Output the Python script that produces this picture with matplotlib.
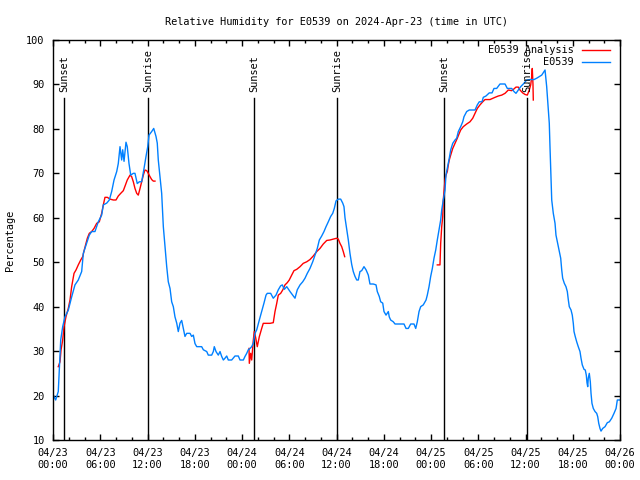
import matplotlib

matplotlib.use("Agg")
import matplotlib.pyplot as plt
from matplotlib.ticker import MultipleLocator

# hours since 2024-04-23 00:00 UTC
obs_hours = [
    0.04, 0.34, 0.67, 0.8, 0.98, 1.23, 1.52, 1.94, 2.37, 2.79, 3.21, 3.64, 3.85, 4.28,
    4.61, 4.91, 5.33, 5.75, 6.18, 6.39, 6.82, 7.15, 7.45, 7.75, 8.09, 8.29, 8.51, 8.72,
    8.85, 9.02, 9.27, 9.43, 9.65, 9.87, 10.2, 10.41, 10.7, 10.96, 11.26, 11.56, 11.81,
    12.03, 12.19, 12.53, 12.79, 13.08, 13.24, 13.37, 13.59, 13.8, 14.01, 14.22, 14.44,
    14.64, 14.86, 15.07, 15.28, 15.49, 15.71, 15.91, 16.13, 16.34, 16.55, 16.76, 16.98,
    17.4, 17.61, 17.82, 18.03, 18.25, 18.88, 19.09, 19.52, 19.72, 20.15, 20.36, 20.48,
    20.7, 20.99, 21.21, 21.42, 21.63, 21.84, 22.06, 22.26, 22.69, 23.11, 23.53, 23.75,
    24.17, 24.38, 24.6, 24.8, 25.02, 25.23, 25.44, 25.65, 25.87, 26.2, 26.5, 26.79,
    27.05, 27.21, 27.64, 27.97, 28.32, 28.61, 28.91, 29.12, 29.37, 29.68, 30.1, 30.44,
    30.73, 31.02, 31.37, 31.71, 32.0, 32.29, 32.63, 32.98, 33.27, 33.56, 33.82, 34.12,
    34.41, 34.67, 34.96, 35.26, 35.52, 35.72, 35.94, 36.23, 36.53, 36.79, 36.95, 37.08,
    37.29, 37.5, 37.71, 37.93, 38.13, 38.35, 38.57, 38.77, 38.98, 39.2, 39.49, 39.75,
    40.04, 40.25, 40.67, 41.02, 41.18, 41.43, 41.61, 41.87, 42.03, 42.29, 42.58, 42.7,
    42.88, 43.21, 43.43, 44.57, 44.83, 45.12, 45.42, 45.84, 46.06, 46.26, 46.48, 46.69,
    47.02, 47.37, 47.53, 47.75, 47.96, 48.17, 48.38, 48.6, 48.8, 49.02, 49.23, 49.36,
    49.56, 49.78, 49.9, 50.07, 50.32, 50.5, 50.76, 51.05, 51.26, 51.47, 51.77, 52.03,
    52.19, 52.53, 52.86, 53.59, 53.88, 54.13, 54.48, 54.64, 54.98, 55.4, 55.75, 56.0,
    56.34, 56.76, 57.4, 57.69, 58.25, 58.54, 58.79, 59.09, 59.39, 59.72, 60.15, 60.57,
    61.08, 61.42, 61.75, 62.06, 62.35, 62.48, 62.69, 62.9, 63.02, 63.11, 63.33, 63.53,
    63.75, 63.87, 64.04, 64.25, 64.47, 64.6, 64.72, 64.93, 65.14, 65.31, 65.44, 65.56,
    65.78, 65.94, 66.07, 66.16, 66.32, 66.5, 66.7, 66.92, 67.05, 67.21, 67.43, 67.59,
    67.72, 67.81, 67.9, 67.97, 68.1, 68.23, 68.32, 68.44, 68.61, 68.83, 69.04, 69.17,
    69.3, 69.46, 69.59, 69.8, 70.1, 70.39, 70.65, 70.95, 71.24, 71.5, 71.66, 72.0,
]
obs_rh = [
    20.1, 19.0, 20.9, 25.7, 32.5, 35.5, 37.7, 39.2, 42.2, 44.9, 46.0, 47.9, 52.0, 54.3,
    56.1, 56.9, 56.9, 59.1, 60.6, 62.9, 63.3, 64.0, 65.9, 68.5, 70.4, 72.2, 76.0, 73.0,
    75.3, 72.7, 77.0, 76.0, 72.2, 69.6, 70.0, 70.0, 67.7, 68.1, 68.1, 71.1, 73.8,
    76.0, 78.6, 79.4, 80.1, 78.3, 76.8, 73.0, 69.2, 65.5, 58.0, 53.5, 49.0,
    45.6, 44.1, 41.1, 40.0, 37.7, 36.3, 34.4, 36.3, 36.9, 35.1, 33.3, 34.0,
    34.0, 33.3, 33.6, 31.7, 31.0, 31.0, 30.3, 29.9, 29.1, 29.1, 29.9, 31.0,
    29.9, 29.1, 29.9, 28.8, 28.0, 28.4, 28.9, 28.0, 28.0, 28.9, 28.9, 28.0,
    28.0, 28.8, 29.5, 30.3, 30.6, 31.0, 31.8, 34.0, 34.8, 37.0, 38.9, 40.8,
    42.6, 43.0, 43.0, 41.9, 42.6, 43.8, 44.7, 44.9, 43.9, 44.5, 43.4, 42.6,
    41.9, 43.8, 44.9, 45.6, 46.4, 47.5, 48.6, 50.1, 51.6, 53.1, 55.0, 55.9,
    56.9, 58.0, 59.1, 60.3, 61.0, 62.1, 63.8, 64.2, 64.2, 63.3, 62.5, 60.0,
    57.5, 55.0, 52.0, 49.5, 47.9, 46.8, 46.0, 46.0, 47.9, 48.1, 49.0, 48.3,
    47.1, 45.1, 45.1, 44.9, 43.4, 42.3, 41.1, 40.8, 38.9, 38.1, 38.9, 37.7,
    37.0, 36.6, 36.1, 36.1, 35.1, 35.1, 36.1, 36.1, 35.1, 36.6, 38.9, 40.0,
    40.4, 41.5, 42.6, 44.5, 46.8, 48.6, 50.9, 52.75, 55.0, 57.3, 59.5, 61.75,
    64.0, 66.25, 69.6, 71.1, 73.4, 75.25, 76.75, 77.5, 77.9, 79.4, 80.5, 81.6,
    82.75, 83.9, 84.25, 84.25, 85.4, 86.1, 86.1, 87.1, 87.4, 88.1, 88.1, 89.1,
    89.1, 90.1, 90.1, 89.1, 89.1, 88.4, 88.0, 88.75, 89.5, 90.1, 91.0, 91.1,
    91.1, 91.4, 91.75, 92.1, 92.9, 93.25, 89.5, 84.25, 81.25, 76.0, 64.0, 61.0,
    58.75, 56.1, 54.6, 52.75, 50.9, 48.25, 46.4, 45.25, 44.5, 43.4, 41.5, 40.0,
    39.25, 38.1, 36.25, 34.4, 33.25, 32.1, 31.0, 29.9, 28.4, 26.9, 25.9, 25.75,
    24.6, 22.9, 22.0, 23.9, 25.0, 23.1, 20.5, 18.25, 17.1, 16.4, 16.0, 15.25,
    13.75, 12.6, 12.0, 12.6, 13.0, 13.9, 14.1, 14.9, 16.0, 17.1, 19.0, 19.0,
]

# analysis runs, one per day
run1_hours = [
    0.67, 0.89, 1.02, 1.23, 1.4, 1.65, 1.94, 2.16, 2.37, 2.67, 2.92, 3.21, 3.52, 3.77,
    3.97, 4.19, 4.36, 4.61, 4.91, 5.21, 5.55, 5.88, 6.18, 6.39, 6.6, 6.9, 7.24, 7.66,
    8.0, 8.29, 8.6, 8.93, 9.14, 9.43, 9.78, 9.99, 10.2, 10.41, 10.63, 10.83, 11.05,
    11.26, 11.47, 11.68, 11.9, 12.1, 12.32, 12.53, 12.74, 12.95,
]
run1_rh = [
    26.5, 27.6, 30.25, 32.5, 35.5, 37.75, 39.6, 41.5, 44.5, 47.5, 48.25, 49.4, 50.5, 51.25,
    52.75, 54.25, 55.4, 56.5, 56.9, 57.6, 58.75, 59.1, 61.0, 62.9, 64.6, 64.6, 64.2, 64.0,
    64.0, 64.9, 65.5, 66.1, 67.1, 68.5, 69.6, 69.25, 68.1, 66.6, 65.5, 65.1, 66.6,
    68.1, 69.6, 70.75, 70.6, 70.0, 69.25, 68.6, 68.25, 68.25,
]
run2_hours = [
    24.89, 24.93, 25.1, 25.23, 25.44, 25.56, 25.74, 25.94, 26.2, 26.5, 26.7, 27.14,
    27.56, 27.97, 28.19, 28.41, 28.61, 28.91, 29.17, 29.46, 29.75, 30.0, 30.31, 30.6,
    30.95, 31.37, 31.78, 32.22, 32.63, 33.05, 33.49, 33.9, 34.32, 34.76, 35.17, 35.59,
    36.03, 36.23, 36.44, 36.66, 36.86, 37.04,
]
run2_rh = [
    30.6, 27.25, 29.5, 28.0, 32.5, 34.4, 33.0, 31.0, 33.25, 35.1, 36.25, 36.25,
    36.25, 36.4, 38.9, 40.75, 42.6, 43.0, 43.75, 44.9, 45.4, 46.0, 47.1, 48.1,
    48.4, 49.0, 49.75, 50.1, 50.6, 51.4, 52.4, 53.1, 54.1, 54.9, 55.0, 55.2,
    55.4, 55.2, 54.25, 53.5, 52.4, 51.25,
]
run3_hours = [
    48.8, 49.14, 49.23, 49.36, 49.49, 49.56, 49.65, 49.78, 49.9, 50.07, 50.2, 50.32,
    50.5, 50.76, 51.05, 51.34, 51.59, 51.77, 52.1, 52.53, 52.95, 53.3, 53.59, 53.88,
    54.22, 54.57, 54.86, 55.49, 56.13, 56.55, 56.98, 57.4, 57.82, 58.25, 58.54, 58.79,
    59.09, 59.3, 59.64, 59.94, 60.23, 60.48, 60.66, 60.79, 60.86, 60.95, 60.99,
]
run3_rh = [
    49.4, 49.4, 54.25, 58.0, 60.25, 64.0, 65.9, 68.5, 69.6, 70.4, 71.9, 73.0,
    74.1, 75.6, 76.75, 77.9, 79.0, 79.75, 80.5, 81.1, 81.6, 82.4, 83.5, 84.6,
    85.4, 86.1, 86.6, 86.6, 87.1, 87.4, 87.6, 88.0, 88.75, 88.6, 89.0, 89.4,
    89.4, 88.75, 88.1, 87.75, 87.6, 88.75, 89.9, 91.75, 93.6, 90.0, 86.5,
]

sun_hours = [1.43, 12.1, 25.56, 36.1, 49.69, 60.23]
sun_labels = ["Sunset", "Sunrise", "Sunset", "Sunrise", "Sunset", "Sunrise"]

tick_hours = list(range(0, 73, 6))
tick_labels = [
    "04/23\n00:00", "04/23\n06:00", "04/23\n12:00", "04/23\n18:00",
    "04/24\n00:00", "04/24\n06:00", "04/24\n12:00", "04/24\n18:00",
    "04/25\n00:00", "04/25\n06:00", "04/25\n12:00", "04/25\n18:00",
    "04/26\n00:00",
]

RED = "#ff0000"
BLUE = "#0080ff"
FONT = "DejaVu Sans Mono"
FS = 7.4

plt.rcParams["font.family"] = FONT
plt.rcParams["font.size"] = FS

fig = plt.figure(figsize=(6.4, 4.8), dpi=100)
ax = fig.add_axes([53 / 640, 40 / 480, 567 / 640, 400 / 480])

for h, lab in zip(sun_hours, sun_labels):
    ax.plot([h, h], [10, 86.9], color="black", lw=1.0)
    ax.text(h, 88.2, lab, rotation=90, ha="center", va="bottom", fontsize=FS)

for hrs, vals in [(run1_hours, run1_rh), (run2_hours, run2_rh), (run3_hours, run3_rh)]:
    ax.plot(hrs, vals, color=RED, lw=1.0)
ax.plot(obs_hours, obs_rh, color=BLUE, lw=1.0)

ax.set_xlim(0, 72)
ax.set_ylim(10, 100)
ax.set_xticks(tick_hours)
ax.set_xticklabels(tick_labels, linespacing=1.25)
ax.xaxis.set_minor_locator(MultipleLocator(2))
ax.set_yticks(range(10, 101, 10))
ax.tick_params(which="both", direction="in", top=True, right=True, width=1.0)
ax.tick_params(which="major", length=4)
ax.tick_params(which="minor", length=2)
ax.tick_params(axis="y", pad=6)
ax.tick_params(axis="x", pad=6)
for s in ax.spines.values():
    s.set_linewidth(1.0)

ax.set_ylabel("Percentage", labelpad=8)
ax.set_title("Relative Humidity for E0539 on 2024-Apr-23 (time in UTC)", pad=11, fontsize=FS)

# gnuplot-style key, text right-aligned before the sample line
for row, (lab, col) in enumerate([("E0539 Analysis", RED), ("E0539", BLUE)]):
    yk = 0.975 - row * 0.031
    ax.text(0.919, yk, lab, transform=ax.transAxes, ha="right", va="center", fontsize=FS)
    ax.plot([0.933, 0.982], [yk, yk], transform=ax.transAxes, color=col, lw=1.0)

fig.savefig("out.png", dpi=100)
